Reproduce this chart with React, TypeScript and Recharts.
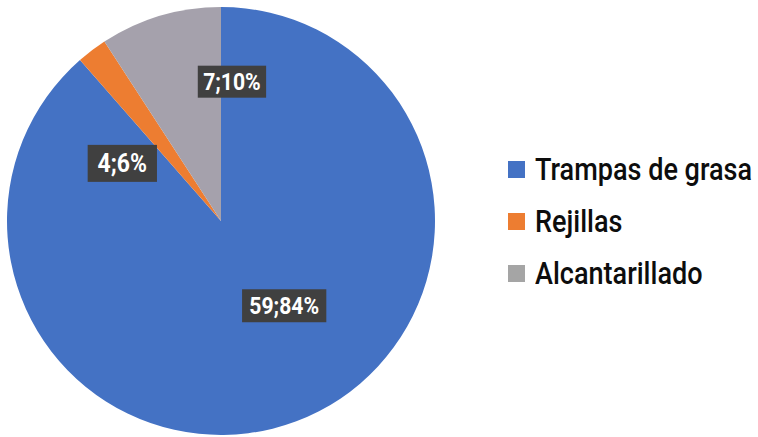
import React from 'react';
import { PieChart, Pie, Cell, Legend } from 'recharts';

// Categories and the numbers printed in the data labels
const categories = ['Trampas de grasa', 'Rejillas', 'Alcantarillado'];
const counts = [59, 4, 7];
const percentLabels = ['84%', '6%', '10%'];
// Share of the full circle each slice covers in the picture (%)
const sliceShares = [88.55, 2.28, 9.17];

const sliceColors = ['#4472C4', '#ED7D31', '#A5A1AC'];
const legendColors = ['#4472C4', '#ED7D31', '#A5A5A5'];

const data = categories.map((name, i) => ({
  name,
  share: sliceShares[i],
  count: counts[i],
  pct: percentLabels[i],
}));

// label placement relative to each slice (radius fraction, angle shift), style only
const LABEL_PLACE = [
  { r: 0.494, d: 16.1, fs: 23, h: 33, pad: 16 },
  { r: 0.534, d: 22.6, fs: 25, h: 37, pad: 21 },
  { r: 0.653, d: -21, fs: 23, h: 32, pad: 12 },
];
const RAD = Math.PI / 180;
const SX = 0.92;

function textWidth(s: string, fs: number) {
  let w = 0;
  for (const ch of s) {
    if (/[0-9]/.test(ch)) w += 0.5625;
    else if (ch === ';') w += 0.24;
    else if (ch === '%') w += 0.735;
    else w += 0.5;
  }
  return w * fs;
}

const renderLabel = (props: any) => {
  const { cx, cy, midAngle, outerRadius, index } = props;
  const p = LABEL_PLACE[index];
  const a = (midAngle + p.d) * RAD;
  const r = outerRadius * p.r;
  const x = cx + r * Math.cos(a);
  const y = cy - r * Math.sin(a);
  const text = `${counts[index]};${percentLabels[index]}`;
  const tw = textWidth(text, p.fs) * SX;
  const bw = tw + p.pad;
  const bh = p.h;
  const baseY = y + (0.711 * p.fs) / 2;
  return (
    <g key={`lbl-${index}`}>
      <rect x={x - bw / 2} y={y - bh / 2} width={bw} height={bh} fill="#404040" />
      <text
        x={x}
        y={baseY}
        textAnchor="middle"
        fill="#ffffff"
        fontFamily="Roboto"
        fontWeight={700}
        fontSize={p.fs}
        transform={`translate(${x} 0) scale(${SX} 1) translate(${-x} 0)`}
      >
        {text}
      </text>
    </g>
  );
};

const LegendContent = () => (
  <div style={{ fontFamily: 'Roboto', fontSize: 32, fontWeight: 500, color: '#0d0d0d' }}>
    {categories.map((c, i) => (
      <div key={c} style={{ display: 'flex', alignItems: 'center', height: 52 }}>
        <span
          style={{
            width: 17,
            height: 17,
            background: legendColors[i],
            display: 'inline-block',
            marginRight: 10,
            flex: '0 0 auto',
          }}
        />
        <span
          style={{
            display: 'inline-block',
            transform: 'scaleX(0.845)',
            transformOrigin: 'left center',
            whiteSpace: 'nowrap',
            lineHeight: '52px',
          }}
        >
          {c}
        </span>
      </div>
    ))}
  </div>
);

export default function App() {
  return (
    <div style={{ position: 'absolute', left: 0, top: 0, width: 758, height: 437, background: '#fff' }}>
      <PieChart width={758} height={437} margin={{ top: 0, right: 0, bottom: 0, left: 0 }}>
        <Pie
          data={data}
          dataKey="share"
          nameKey="name"
          cx={221}
          cy={221}
          outerRadius={214}
          startAngle={90}
          endAngle={-270}
          stroke="none"
          labelLine={false}
          label={renderLabel}
          isAnimationActive={false}
        >
          {data.map((d, i) => (
            <Cell key={d.name} fill={sliceColors[i]} stroke="none" />
          ))}
        </Pie>
        <Legend
          layout="vertical"
          align="right"
          verticalAlign="top"
          content={<LegendContent />}
          wrapperStyle={{ left: 508, top: 143, width: 250 }}
        />
      </PieChart>
    </div>
  );
}
